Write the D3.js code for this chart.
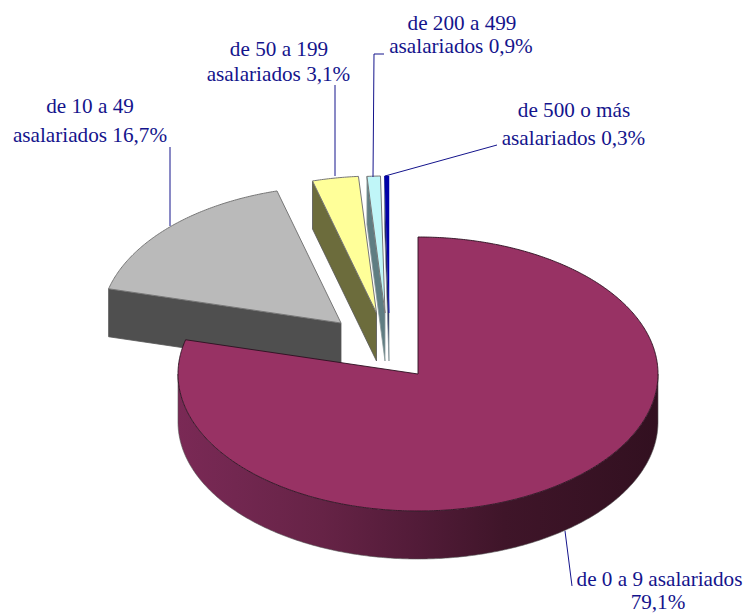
<!DOCTYPE html>
<html><head><meta charset="utf-8">
<script src="https://cdnjs.cloudflare.com/ajax/libs/d3/7.8.5/d3.min.js"></script>
<style>html,body{margin:0;padding:0;background:#fff}svg{display:block}</style></head>
<body><svg id="c" width="749" height="614"></svg>
<script>
const categories = ["de 0 a 9 asalariados","de 10 a 49 asalariados","de 50 a 199 asalariados","de 200 a 499 asalariados","de 500 o más asalariados"];
const values = [79.1,16.7,3.1,0.9,0.3];
const valueLabels = ["79,1%","16,7%","3,1%","0,9%","0,3%"];
const topColors = ["#983264","#bababa","#ffff99","#c0f6f8","#0000a8"];
const wallColors = ["#5a1e3c","#4f4f4f","#6c6c3c","#5f7d82","#00004d"];

const W=749,H=614;
const CX=418,CY=374,RX=240,RY=137,DEPTH=48;
const offsets=[[0,0],[-77,-51],[-41.5,-61],[-33,-61],[-29,-61]];
const svg=d3.select("#c");
const defs=svg.append("defs");
const grad=defs.append("linearGradient").attr("id","side").attr("x1",0).attr("x2",1).attr("y1",0).attr("y2",0);
[[0,"#7a2955"],[0.12,"#722750"],[0.3,"#662346"],[0.5,"#521b38"],[0.68,"#3f1529"],[1,"#321020"]]
  .forEach(([o,c])=>grad.append("stop").attr("offset",o).attr("stop-color",c));

const arcs=d3.pie().sort(null).value(d=>d)(values);
const scX=d3.scaleLinear().domain([-1,1]).range([CX-RX,CX+RX]);
const scY=d3.scaleLinear().domain([-1,1]).range([CY-RY,CY+RY]);
const pt=(a,o,r=1,dz=0)=>[scX(r*Math.sin(a))+o[0],scY(-r*Math.cos(a))+o[1]+dz];
const line=d3.line();
const arcPts=(a0,a1,o,dz=0)=>{const n=Math.max(2,Math.ceil(Math.abs(a1-a0)/0.01));
  return d3.range(n+1).map(i=>pt(a0+(a1-a0)*i/n,o,1,dz));};
const gChart=svg.append("g");

[1,2,3,4].forEach(i=>{
  const d=arcs[i],o=offsets[i];
  const tip=pt(0,o,0),tipB=pt(0,o,0,DEPTH);
  const s=pt(d.startAngle,o),sB=pt(d.startAngle,o,1,DEPTH);
  gChart.append("path").attr("d",line([s,tip,tipB,sB])+"Z")
    .attr("fill",wallColors[i]).attr("stroke",i>2?"#8a9a9c":"#555").attr("stroke-width",0.8);
  gChart.append("path").attr("d",line([tip,...arcPts(d.startAngle,d.endAngle,o)])+"Z")
    .attr("fill",topColors[i]).attr("stroke",i===4?"#0000a8":"#777").attr("stroke-width",i===4?0.5:1).attr("stroke-linejoin","round");
});

{
  const d=arcs[0],o=offsets[0];
  const low=arcPts(Math.PI/2,3*Math.PI/2,o);
  const lowB=arcPts(3*Math.PI/2,Math.PI/2,o,DEPTH);
  gChart.append("path").attr("d",line([...low,...lowB])+"Z").attr("fill","url(#side)").attr("stroke","#555").attr("stroke-width",0.6);
  gChart.append("path").attr("d",line([pt(0,o,0),...arcPts(d.startAngle,d.endAngle,o)])+"Z")
    .attr("fill",topColors[0]).attr("stroke","#2d1020").attr("stroke-width",0.9).attr("stroke-linejoin","round");
}

const leaders=[
 {i:0,pts:[[565,531],[572,586]]},
 {i:1,pts:[[170,226],[170,147]]},
 {i:2,pts:[[335,176],[335,85]]},
 {i:3,pts:[[373,177],[374,54],[384,54]]},
 {i:4,pts:[[385,176],[497,145]]}];
const gL=svg.append("g");
leaders.forEach(l=>gL.append("path").attr("d",line(l.pts)).attr("fill","none").attr("stroke","#14148c").attr("stroke-width",1));

const labelPos=[
 {i:0,lines:[[659.5,586],[658,609]],split:false},
 {i:1,lines:[[90,113],[90,142]],split:true},
 {i:2,lines:[[279,56],[278.5,81]],split:true},
 {i:3,lines:[[462,30],[461,53]],split:true},
 {i:4,lines:[[574,117],[573.5,145]],split:true}];
const gT=svg.append("g").attr("font-family","'Liberation Serif',serif").attr("font-size",21.2).attr("fill","#14148c").attr("text-anchor","middle");
labelPos.forEach(l=>{
  const name=categories[l.i], k=name.lastIndexOf(" asalariados");
  const t=l.split?[name.slice(0,k),"asalariados "+valueLabels[l.i]]:[name,valueLabels[l.i]];
  t.forEach((s,j)=>gT.append("text").attr("x",l.lines[j][0]).attr("y",l.lines[j][1]).text(s));
});
</script></body></html>
